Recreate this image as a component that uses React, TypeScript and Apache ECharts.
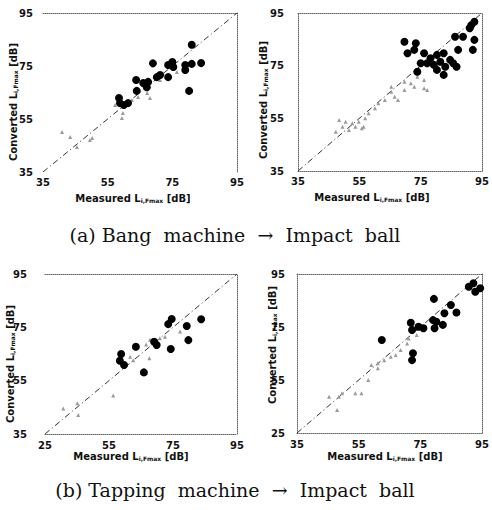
import React, { useEffect, useRef } from "react";
import * as echarts from "echarts";

// ---- data (measured, converted) in dB ----
const a1Filled: number[][] = [
  [81, 83], [69, 76], [75, 76.5], [73.7, 75.4], [75.3, 74.6], [79, 75.4], [81, 75.8], [83.9, 76.1],
  [79, 73.5], [80.2, 65.6], [73.7, 70.8], [63.8, 69.7], [66, 68.6], [67.1, 67], [64, 65.6],
  [58.5, 62.9], [58.8, 61], [60, 60.3], [61.3, 61], [70.2, 70.8], [71.2, 71.6], [67.5, 69],
];
const a1Small: number[][] = [
  [40.9, 50.1], [43.4, 48.2], [45.5, 44.4], [49.5, 47.1], [50.2, 47.8], [59.4, 55.4], [59.7, 57.3],
  [62.5, 62.2], [64.4, 63.3], [68.1, 62.9], [67.2, 64.8], [57.3, 60.3], [72.1, 72.4], [76.4, 72.7],
  [71.2, 69.7],
];
const a2Filled: number[][] = [
  [69.7, 84.1], [73.4, 83.5], [72.9, 81], [70.7, 79.7], [76.1, 79.7], [78.2, 77.8], [80.3, 79.1],
  [82.5, 79.7], [81.4, 76.5], [79.3, 75.3], [77.1, 75.9], [84.6, 77.2], [85.6, 75.9], [86.7, 74.6],
  [83, 74.6], [80.3, 73.4], [82.5, 71.5], [75, 75.9], [88.8, 86], [86.2, 86], [92.5, 84.8],
  [92, 81], [91.5, 90.4], [92.5, 91.7], [91, 89.2], [87.2, 81], [73.9, 72.7],
];
const a2Small: number[][] = [
  [48.4, 54.4], [50.5, 53.7], [49.5, 51.8], [52.7, 53.1], [51.6, 50.6], [54.8, 53.7], [56.4, 51.8],
  [58, 56.9], [61.2, 60.7], [63.3, 62], [65.4, 65.1], [66.5, 63.2], [69.7, 65.8], [71.8, 68.3],
  [72.9, 67], [69.7, 68.9], [73.9, 70.8], [76.1, 69.6], [67.6, 62], [60.1, 58.8], [47.3, 49.9],
  [56.9, 55], [76.1, 66.4], [53.7, 51.8], [55.8, 51.2], [65.4, 67], [77.1, 65.8],
];
const b1Filled: number[][] = [
  [74.6, 78.1], [73.5, 76.2], [83.8, 78], [79.8, 70.2], [63.4, 67.7], [58.8, 65], [58.4, 62.5],
  [59.7, 60.9], [65.9, 58.1], [69.1, 69.6], [69.9, 68.4], [74.3, 66.9], [79.3, 75.5],
];
const b1Small: number[][] = [
  [40.7, 44.6], [45.1, 46.5], [45.4, 42.1], [56.3, 49.4], [61.6, 64], [62.6, 62.7], [66.6, 68.6],
  [67.6, 63.4], [70.9, 70.9], [72.5, 71.5], [77.2, 73.4], [67.8, 70.3],
];
const b2Filled: number[][] = [
  [79.4, 85.6], [62.5, 70.1], [71.9, 76.6], [72.3, 73.9], [74.4, 75.1], [76, 74.5], [79.1, 77.6],
  [79.6, 74.5], [82.3, 75.8], [82.8, 80.2], [84.9, 83.3], [86.7, 80.5], [90.7, 90.2], [92.2, 91.5],
  [92.8, 88.3], [94.4, 89.6], [72.6, 65.1], [72.3, 62.5], [80.2, 77],
];
const b2Small: number[][] = [
  [45.4, 48.7], [48.6, 48.7], [49.6, 50], [53.9, 50], [55.9, 50], [48, 43.7], [58.1, 55],
  [59.1, 60.7], [61.2, 61.3], [63.3, 62.5], [65.4, 63.8], [68.6, 66.3], [70.7, 68.8], [71.2, 70.7],
  [73.8, 72], [67, 64.4], [61.2, 59.4],
];
const identity: number[][] = [[35, 35], [95, 95]];

const tickValues = [35, 55, 75, 95];
const a1XLabels = ["35", "55", "75", "95"];
const a1YLabels = ["35", "55", "75", "95"];
const a2XLabels = ["35", "55", "75", "95"];
const a2YLabels = ["35", "55", "75", "95"];
const b1XLabels = ["25", "55", "75", "95"];
const b1YLabels = ["35", "55", "75", "95"];
const b2XLabels = ["35", "55", "75", "95"];
const b2YLabels = ["25", "55", "75", "95"];

const captionA = "(a) Bang  machine  →  Impact  ball";
const captionB = "(b) Tapping  machine  →  Impact  ball";

// ---- layout / styles ----
const panels = [
  { filled: a1Filled, small: a1Small, xl: a1XLabels, yl: a1YLabels, grid: { left: 43, top: 13, width: 194, height: 159 },
    border: { top: true, right: true, bottom: false, left: false }, xm: 5, ym: 10,
    xt: [133, 198], yt: [13, 102] },
  { filled: a2Filled, small: a2Small, xl: a2XLabels, yl: a2YLabels, grid: { left: 298, top: 13, width: 188, height: 158 },
    border: { top: true, right: true, bottom: true, left: true }, xm: 5, ym: 14,
    xt: [372, 197], yt: [263, 100] },
  { filled: b1Filled, small: b1Small, xl: b1XLabels, yl: b1YLabels, grid: { left: 45, top: 274, width: 192, height: 160 },
    border: { top: true, right: true, bottom: true, left: false }, xm: 6, ym: 18,
    xt: [131, 456], yt: [10, 364] },
  { filled: b2Filled, small: b2Small, xl: b2XLabels, yl: b2YLabels, grid: { left: 297, top: 274, width: 190, height: 159 },
    border: { top: true, right: true, bottom: true, left: true }, xm: 6, ym: 12,
    xt: [385, 456], yt: [272, 345] },
];

const BORDER = { color: "#666", type: "dotted" as const, width: 1 };
const LABEL = { color: "#111", fontSize: 10, fontWeight: "bold" as const, fontFamily: "DejaVu Sans" };
const MAIN = { fontSize: 10, fontWeight: "bold", fontFamily: "DejaVu Sans", fill: "#111" };
const SUB = { fontSize: 6, fontWeight: "bold", fontFamily: "DejaVu Sans", fill: "#111", padding: [4, 0, 0, 0] };

export default function App() {
  const ref = useRef<HTMLDivElement>(null);
  useEffect(() => {
    if (!ref.current) return;
    const chart = echarts.init(ref.current, undefined, { renderer: "svg" });
    const grid: any[] = [];
    const xAxis: any[] = [];
    const yAxis: any[] = [];
    const series: any[] = [];
    const graphic: any[] = [];
    panels.forEach((p, i) => {
      grid.push({ ...p.grid, containLabel: false });
      const fmt = (labels: string[]) => (v: number) => {
        const k = tickValues.indexOf(v);
        return k >= 0 ? labels[k] : "";
      };
      xAxis.push({
        gridIndex: i, type: "value", min: 35, max: 95, position: "bottom",
        axisLine: { show: p.border.bottom, onZero: false, lineStyle: BORDER },
        axisTick: { show: false }, splitLine: { show: false },
        axisLabel: { ...LABEL, margin: p.xm, customValues: tickValues, formatter: fmt(p.xl), showMinLabel: true, showMaxLabel: true },
      });
      xAxis.push({
        gridIndex: i, type: "value", min: 35, max: 95, position: "top",
        axisLine: { show: p.border.top, onZero: false, lineStyle: BORDER },
        axisTick: { show: false }, splitLine: { show: false }, axisLabel: { show: false },
      });
      yAxis.push({
        gridIndex: i, type: "value", min: 35, max: 95, position: "left",
        axisLine: { show: p.border.left, onZero: false, lineStyle: BORDER },
        axisTick: { show: false }, splitLine: { show: false },
        axisLabel: { ...LABEL, margin: p.ym, customValues: tickValues, formatter: fmt(p.yl), showMinLabel: true, showMaxLabel: true },
      });
      yAxis.push({
        gridIndex: i, type: "value", min: 35, max: 95, position: "right",
        axisLine: { show: p.border.right, onZero: false, lineStyle: BORDER },
        axisTick: { show: false }, splitLine: { show: false }, axisLabel: { show: false },
      });
      const xi = i * 2;
      const yi = i * 2;
      series.push({
        type: "line", xAxisIndex: xi, yAxisIndex: yi, data: identity, symbol: "none",
        lineStyle: { color: "#333", width: 1, type: [6, 3, 1, 3] }, silent: true, z: 1,
      });
      series.push({
        type: "scatter", xAxisIndex: xi, yAxisIndex: yi, data: p.small, symbol: "triangle", symbolSize: 4,
        itemStyle: { color: "#9a9a9a", opacity: 1 }, z: 2,
      });
      series.push({
        type: "scatter", xAxisIndex: xi, yAxisIndex: yi, data: p.filled, symbol: "circle", symbolSize: 8,
        itemStyle: { color: "#000", opacity: 1 }, z: 3,
      });
      graphic.push({
        type: "text", x: p.xt[0], y: p.xt[1],
        style: {
          text: "{m|Measured L}{s|i,Fmax}{m| [dB]}",
          font: "bold 10px 'DejaVu Sans'", fill: "#111", align: "center", verticalAlign: "middle",
          rich: { m: MAIN, s: SUB },
        },
      });
      graphic.push({
        type: "text", x: p.yt[0], y: p.yt[1], rotation: Math.PI / 2,
        style: {
          text: "{m|Converted L}{s|i,Fmax}{m| [dB]}",
          font: "bold 10px 'DejaVu Sans'", fill: "#111", align: "center", verticalAlign: "middle",
          rich: { m: MAIN, s: SUB },
        },
      });
    });
    graphic.push({
      type: "text", x: 235, y: 235,
      style: { text: captionA, font: "19px 'DejaVu Serif'", fill: "#111", align: "center", verticalAlign: "middle" },
    });
    graphic.push({
      type: "text", x: 235, y: 490,
      style: { text: captionB, font: "19px 'DejaVu Serif'", fill: "#111", align: "center", verticalAlign: "middle" },
    });
    chart.setOption({
      animation: false,
      backgroundColor: "#fff",
      grid, xAxis, yAxis, series, graphic,
    });
    return () => chart.dispose();
  }, []);
  return <div ref={ref} style={{ position: "absolute", left: 0, top: 0, width: 492, height: 510 }} />;
}
